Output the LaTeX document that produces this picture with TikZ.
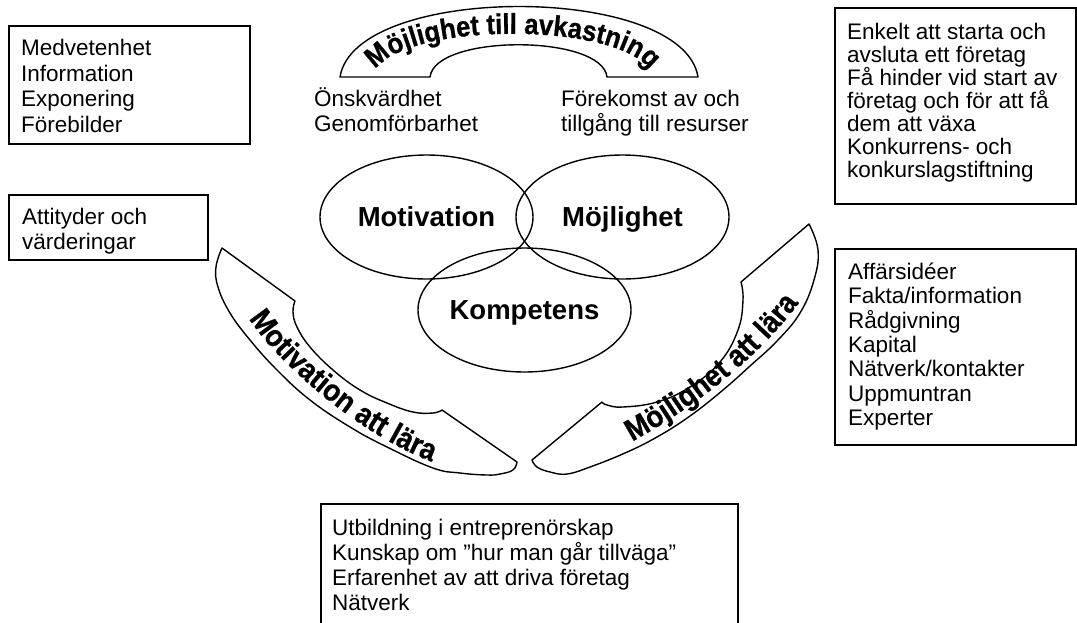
\documentclass[tikz,border=0pt]{standalone}
\usepackage{fontspec}
\setmainfont{Liberation Sans}
\newfontfamily\bandfamily[FakeStretch=0.9,FakeBold=0.8]{Liberation Sans}
\usetikzlibrary{positioning,shapes.geometric,decorations.text}
\newcommand{\vennfont}{\fontsize{27.5pt}{30pt}\selectfont\bfseries}
\newcommand{\bandfont}{\bandfamily\bfseries\fontsize{30.5pt}{33pt}\selectfont}
\newcommand{\archfont}{\bandfamily\bfseries\fontsize{28.5pt}{31pt}\selectfont}

\begin{document}
\begin{tikzpicture}
[
x=1pt, y=-1pt,
box-a/.style={draw, line width=1.4pt, inner sep=0pt, outer sep=0pt, anchor=north west},
text-a/.style={inner sep=0pt, align=left, font=\fontsize{22.5pt}{#1}\selectfont},
text-a/.default=25pt,
venn-a/.style={ellipse, draw, line width=1.4pt, minimum width=213pt, minimum height=124pt, inner sep=0pt, outer sep=0pt, text height=19.7pt, text depth=0pt, font=\vennfont},
band-a/.style={draw, line width=1.4pt, line join=round},
band-text/.style 2 args={decorate, decoration={text along path, text align=center, text={|#1|#2}}}
]
\path[use as bounding box, fill=white] (0,0) rectangle (1077,622);

\node (box-mv)   [box-a, minimum width=241pt, minimum height=118pt] at (9,26)    {};
\node (text-mv)  [text-a=25.7pt, below right = 13pt and 12pt of box-mv.north west] {Medvetenhet\\Information\\Exponering\\Förebilder};
\node (box-av)   [box-a, minimum width=199pt, minimum height=65pt]  at (9,195)   {};
\node (text-av)  [text-a=25pt,   below right = 13pt and 13pt of box-av.north west] {Attityder och\\värderingar};
\node (box-fo)   [box-a, minimum width=241pt, minimum height=196pt] at (835,8)   {};
\node (text-fo)  [text-a=23pt,   below right = 14.5pt and 12pt of box-fo.north west] {Enkelt att starta och\\avsluta ett företag\\Få hinder vid start av\\företag och för att få\\dem att växa\\Konkurrens- och\\konkurslagstiftning};
\node (box-re)   [box-a, minimum width=241pt, minimum height=196pt] at (835,249) {};
\node (text-re)  [text-a=24.4pt, below right = 13.5pt and 13pt of box-re.north west] {Affärsidéer\\Fakta/information\\Rådgivning\\Kapital\\Nätverk/kontakter\\Uppmuntran\\Experter};
\node (box-ko)   [box-a, minimum width=417pt, minimum height=130pt] at (321,504) {};
\node (text-ko)  [text-a=25pt,   below right = 15pt and 11pt of box-ko.north west] {Utbildning i entreprenörskap\\Kunskap om ”hur man går tillväga”\\Erfarenhet av att driva företag\\Nätverk};

\node (text-ov)  [text-a, anchor=base west] at (314,131) {Önskvärdhet\\Genomförbarhet};
\node (text-tr)  [text-a, anchor=base west] at (561,131) {Förekomst av och\\tillgång till resurser};

\node (venn-mot) [venn-a] at (426.5,217) {Motivation};
\node (venn-moj) [venn-a, right = -17pt of venn-mot] {Möjlighet};
\node (venn-kom) [venn-a] at (524.5,310) {Kompetens};

\draw[band-a] (340,77) .. controls (355,-17) and (683,-17) .. (698,77)
  -- (607,77) .. controls (602,34) and (435,34) .. (430,77) -- cycle;
\path[band-text={\archfont}{Möjlighet till avkastning}] (372,78) .. controls (385,19) and (640,19) .. (653,78);

\draw[band-a] (222,248) -- (295,301)
  -- plot[smooth, tension=0.7] coordinates {(295,301) (293,312) (297,327) (310,347) (333,370) (360,390) (387,403) (413,412) (433,413) (442,410)}
  -- (517,462)
  -- plot[smooth, tension=0.7] coordinates {(517,462) (513,470) (500,474) (487,475) (460,473) (433,468) (387,447) (350,427) (310,400) (277,370) (250,340) (230,313) (218,287) (216,267) (222,248)}
  -- cycle;
\path[band-text={\bandfont}{Motivation att lära}] (250,320) .. controls (272,355) and (350,430) .. (430,461);

\draw[band-a] (809,224) -- (741,282)
  -- plot[smooth, tension=0.7] coordinates {(741,282) (743,300) (738,330) (720,362) (690,387) (657,402) (623,407) (607,405) (602,402)}
  -- (532,460)
  -- plot[smooth, tension=0.7] coordinates {(532,460) (537,467) (550,472) (567,474) (590,467) (625,453) (657,437) (690,416) (723,390) (750,366) (777,341) (800,313) (814,280) (818,250) (809,224)}
  -- cycle;
\path[band-text={\bandfont}{Möjlighet att lära}] (618,449) .. controls (660,428) and (755,370) .. (808,290);
\end{tikzpicture}
\end{document}
